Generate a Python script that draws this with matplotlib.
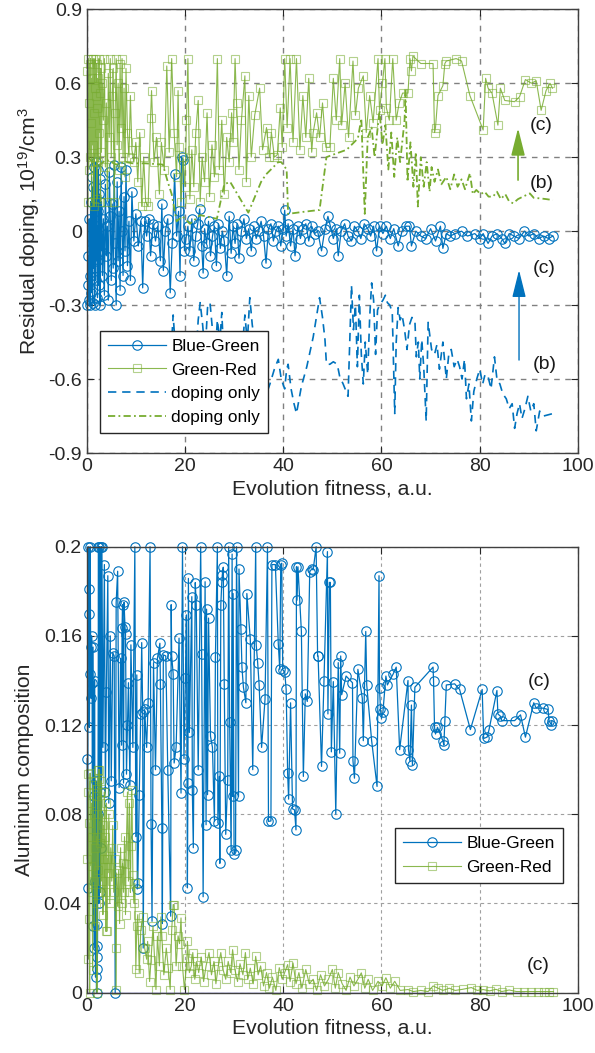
import numpy as np
import matplotlib
matplotlib.use('Agg')
import matplotlib.pyplot as plt

plt.rcParams['font.family'] = ['Liberation Sans', 'DejaVu Sans']
plt.rcParams['mathtext.default'] = 'regular'
plt.rcParams['axes.unicode_minus'] = False

blue = '#0072BD'
green = (0.467, 0.675, 0.188)

# ---- top panel: residual doping (x = fitness, y = doping) ----
bg_dop = [(0.1,-0.30),(0.2,-0.22),(0.3,-0.10),(0.4,-0.28),(0.5,0.05),(0.6,-0.18),(0.7,-0.30),(0.8,0.12),
          (0.9,-0.25),(1.0,0.22),(1.1,-0.05),(1.2,-0.29),(1.3,0.18),(1.4,-0.15),(1.5,0.26),(1.6,-0.30),
          (1.7,0.10),(1.8,-0.20),(1.9,0.28),(2.0,-0.12),(2.1,0.02),(2.2,-0.27),(2.3,0.25),(2.4,0.08),
          (2.5,-0.22),(2.6,0.15),(2.7,-0.30),(2.8,0.21),(2.9,-0.08),(3.0,0.12),(3.2,-0.18),(3.4,0.05),
          (3.6,-0.26),(3.8,0.19),(4.0,-0.10),(4.2,0.02),(4.4,-0.28),(4.6,0.24),(4.8,0.06),(5.0,-0.20),
          (5.2,0.11),(5.4,-0.15),(5.6,0.27),(5.8,-0.05),(6.0,-0.30),(6.2,0.20),(6.4,-0.12),(6.6,0.08),
          (6.8,-0.24),(7.0,0.26),(7.2,0.00),(7.4,-0.18),(7.6,0.14),(7.8,-0.08),(8.0,0.25),(8.3,-0.14),
          (8.6,0.04),(8.9,-0.20),(9.2,0.16),(9.6,-0.04),
          (10.0,0.07),(10.5,-0.06),(11.0,0.04),(11.4,-0.23),(11.8,0.04),(12.2,-0.02),(12.6,0.05),(13.0,-0.10),
          (13.5,0.03),(14.0,-0.04),(14.5,0.02),(15.0,-0.12),(15.3,0.11),(15.6,-0.16),(16.0,0.00),(16.5,0.05),
          (17.0,-0.25),(17.4,-0.05),(17.9,0.23),(18.3,-0.02),(18.7,0.08),(19.0,-0.18),(19.3,0.30),(19.6,0.29),
          (19.9,-0.08),
          (20.2,-0.03),(20.6,0.02),(21.0,-0.08),(21.4,0.05),(21.8,-0.12),(22.2,-0.02),(22.6,0.03),(23.0,0.09),
          (23.4,-0.06),(23.7,-0.17),(24.0,0.01),(24.4,-0.05),(24.8,0.04),(25.2,-0.10),(25.6,-0.02),(26.0,0.02),
          (26.4,-0.14),(26.8,0.03),(27.2,-0.07),(27.6,0.00),(28.0,-0.04),(28.5,-0.18),(29.0,0.06),(29.4,-0.09),
          (29.8,0.02),(30.2,-0.05),(30.6,0.03),(31.0,-0.11),(31.5,0.00),(32.0,0.05),(32.5,-0.03),(33.0,0.01),
          (33.5,-0.08),(34.0,0.02),(34.5,-0.03),(35.0,0.00),(35.5,0.04),(36.0,-0.02),(36.5,-0.13),(37.0,0.01),
          (37.5,0.03),(38.0,-0.04),(38.5,0.00),(39.0,0.02),(39.5,-0.06),(40.0,0.01),(40.3,0.085),
          (40.6,-0.02),(41.0,0.03),(41.5,-0.06),(42.0,0.01),(42.4,-0.10),(43.0,0.02),(43.5,-0.03),(44.0,0.01),
          (44.6,0.03),(45.2,-0.04),(45.8,0.02),(46.4,-0.01),(47.0,0.00),(47.8,-0.08),(48.5,0.01),(49.1,0.06),
          (49.6,0.02),(50.2,-0.03),(50.8,0.01),(51.2,-0.10),(51.8,0.00),(52.5,0.03),(53.2,-0.02),(53.9,-0.04),
          (54.5,0.02),(55.2,0.00),(55.8,-0.03),(56.5,0.03),(57.2,0.01),(57.8,-0.02),(58.4,0.02),(59.0,-0.08),
          (59.6,0.02),
          (60.3,-0.01),(61.0,0.02),(61.8,-0.03),(62.5,0.01),(63.4,-0.06),(64.2,0.00),(65.0,0.02),(65.7,0.02),
          (66.1,-0.06),(67.0,0.00),(68.0,-0.02),(69.0,-0.03),(70.0,0.01),(71.0,-0.04),(72.0,0.02),(72.5,-0.07),
          (73.2,-0.01),(74.0,-0.02),(75.0,-0.01),(76.3,0.00),(77.5,-0.02),(79.0,-0.01),(80.0,-0.03),(80.7,-0.01),
          (81.7,-0.05),(82.5,-0.02),(83.5,-0.01),(84.5,-0.03),(85.1,-0.05),(86.0,-0.01),(87.0,-0.02),(88.0,-0.03),
          (89.1,0.00),(90.0,-0.02),(91.0,-0.01),(92.0,-0.03),(93.0,-0.02),(94.0,-0.03),(94.9,-0.02)]

gr_dop = [(0.1,0.65),(0.2,0.12),(0.3,0.70),(0.4,0.25),(0.5,0.52),(0.6,0.68),(0.7,0.30),(0.8,0.70),
          (0.9,0.44),(1.0,0.12),(1.1,0.62),(1.2,0.35),(1.3,0.70),(1.4,0.48),(1.5,0.10),(1.6,0.58),
          (1.7,0.70),(1.8,0.30),(1.9,0.55),(2.0,0.68),(2.1,0.13),(2.2,0.50),(2.3,0.62),(2.4,0.28),
          (2.5,0.70),(2.6,0.40),(2.7,0.56),(2.8,0.12),(2.9,0.66),(3.0,0.32),(3.2,0.60),(3.4,0.45),
          (3.6,0.70),(3.8,0.26),(4.0,0.52),(4.2,0.12),(4.4,0.64),(4.6,0.38),(4.8,0.70),(5.0,0.30),
          (5.2,0.55),(5.4,0.66),(5.6,0.12),(5.8,0.48),(6.0,0.70),(6.2,0.35),(6.4,0.60),(6.6,0.25),
          (6.8,0.68),(7.0,0.42),(7.2,0.70),(7.4,0.30),(7.6,0.58),(7.8,0.22),(8.0,0.66),(8.3,0.40),
          (8.6,0.30),(8.9,0.55),(9.2,0.33),(9.6,0.28),
          (10.0,0.36),(10.4,0.20),(10.8,0.40),(11.2,0.10),(11.6,0.30),(12.0,0.12),(12.5,0.10),(13.0,0.46),
          (13.2,0.57),(13.7,0.28),(14.2,0.38),(14.8,0.15),(15.2,0.36),(15.8,0.25),(16.3,0.67),(16.8,0.32),
          (17.3,0.70),(17.8,0.40),(18.3,0.22),(18.6,0.57),(18.8,0.34),(19.2,0.12),(19.6,0.30),(20.0,0.18),
          (20.3,0.45),(20.6,0.70),(21.0,0.13),(21.4,0.33),(21.8,0.18),(22.2,0.40),(22.7,0.53),(23.1,0.12),
          (23.5,0.30),(24.0,0.20),(24.5,0.48),(25.0,0.14),(25.5,0.35),(26.0,0.22),(26.6,0.70),(27.0,0.25),
          (27.5,0.45),(28.0,0.15),(28.5,0.38),(29.0,0.28),(29.5,0.48),(29.8,0.36),(30.2,0.70),(30.5,0.52),
          (31.0,0.25),(31.5,0.45),(32.2,0.63),(32.5,0.20),(33.0,0.55),(33.5,0.30),(34.2,0.47),(35.2,0.58),
          (35.8,0.33),(36.6,0.42),(37.2,0.30),(37.6,0.40),(38.2,0.30),(38.8,0.31),(39.4,0.50),(39.8,0.34),
          (40.3,0.70),(40.8,0.42),(41.4,0.70),(42.0,0.36),(42.7,0.70),(43.4,0.33),(44.0,0.55),(44.6,0.38),
          (45.2,0.62),(45.8,0.32),(46.1,0.40),(46.8,0.48),(47.4,0.38),(48.0,0.52),(48.7,0.34),(49.5,0.34),
          (50.2,0.62),(50.8,0.45),(51.5,0.70),(51.9,0.43),(52.6,0.60),(53.3,0.38),(54.2,0.69),(54.7,0.47),
          (55.3,0.58),(56.3,0.63),(56.9,0.40),(57.6,0.55),(58.3,0.44),(59.3,0.70),(59.6,0.49),(60.2,0.60),
          (60.7,0.70),(61.0,0.50),(61.6,0.45),(62.3,0.70),(63.0,0.45),(63.6,0.52),(64.3,0.56),(65.4,0.56),
          (65.8,0.70),(66.1,0.65),(66.4,0.71),(68.0,0.68),(70.5,0.68),(70.8,0.40),(71.0,0.42),(71.5,0.55),
          (72.5,0.59),(72.9,0.68),(73.2,0.69),(75.2,0.70),(76.3,0.69),(78.0,0.55),(80.7,0.41),(81.2,0.62),
          (81.7,0.58),(82.5,0.56),(83.7,0.43),(84.2,0.58),(85.1,0.53),(87.1,0.525),(88.1,0.545),(89.3,0.615),
          (90.5,0.60),(91.5,0.61),(92.5,0.49),(93.5,0.57),(94.3,0.60),(94.8,0.58)]

bg_only = [(17.2,-0.48),(17.6,-0.34),(18.0,-0.46),(18.4,-0.55),(18.8,-0.50),(19.3,-0.62),(19.8,-0.48),
           (20.4,-0.55),(21.0,-0.60),(21.6,-0.42),(22.2,-0.52),(22.7,-0.36),(23.1,-0.29),(23.6,-0.38),
           (24.1,-0.50),(24.6,-0.31),(25.1,-0.29),(25.6,-0.40),(26.1,-0.52),(26.6,-0.36),(27.1,-0.45),
           (27.5,-0.33),(28.0,-0.55),(28.6,-0.48),(29.2,-0.60),(29.8,-0.44),(30.4,-0.52),(31.0,-0.40),
           (31.6,-0.50),(32.2,-0.34),(32.7,-0.45),(33.2,-0.27),(33.7,-0.38),(34.2,-0.45),(34.8,-0.55),
           (35.4,-0.62),(36.0,-0.58),(36.6,-0.66),(37.3,-0.62),(38.2,-0.56),(39.0,-0.52),(39.6,-0.60),
           (40.3,-0.64),(40.7,-0.56),(41.0,-0.54),(41.6,-0.64),(42.2,-0.70),(42.7,-0.74),(43.7,-0.63),
           (44.8,-0.55),(46.1,-0.43),(47.4,-0.27),(48.0,-0.35),(48.5,-0.44),(48.8,-0.54),(49.5,-0.54),
           (50.2,-0.53),(51.0,-0.54),(51.5,-0.59),(52.2,-0.62),(53.2,-0.67),(53.9,-0.22),(54.3,-0.40),
           (54.7,-0.30),(55.1,-0.55),(55.5,-0.26),(55.9,-0.50),(56.3,-0.62),(56.7,-0.45),(57.2,-0.58),
           (57.6,-0.35),(58.0,-0.21),(58.4,-0.28),(58.8,-0.50),(59.2,-0.32),(59.6,-0.30),(60.3,-0.28),
           (60.8,-0.26),(61.2,-0.29),(61.7,-0.30),(62.2,-0.33),(62.7,-0.74),(63.0,-0.45),(63.4,-0.31),
           (63.8,-0.36),(64.2,-0.34),(64.7,-0.40),(65.2,-0.48),(65.7,-0.38),(66.2,-0.35),(66.8,-0.36),
           (67.1,-0.51),(67.5,-0.45),(67.8,-0.60),(68.2,-0.44),(68.6,-0.55),(69.1,-0.77),(69.5,-0.37),
           (70.2,-0.48),(70.8,-0.50),(71.3,-0.46),(71.8,-0.56),(72.5,-0.45),(73.2,-0.60),(73.7,-0.50),
           (74.2,-0.48),(74.8,-0.55),(75.4,-0.52),(75.9,-0.55),(76.4,-0.60),(76.9,-0.52),(77.3,-0.68),
           (77.8,-0.62),(78.3,-0.77),(78.8,-0.65),(79.4,-0.60),(80.0,-0.56),(80.6,-0.62),(81.1,-0.58),
           (81.7,-0.59),(82.3,-0.64),(83.0,-0.51),(83.5,-0.60),(84.1,-0.62),(84.7,-0.66),(85.4,-0.68),
           (86.0,-0.72),(86.6,-0.70),(87.1,-0.80),(87.6,-0.74),(88.1,-0.70),(88.6,-0.76),(89.2,-0.72),
           (89.8,-0.67),(90.4,-0.73),(91.0,-0.70),(91.5,-0.81),(92.2,-0.73),(93.0,-0.75),(94.9,-0.74)]

gr_only = [(0.3,0.30),(2.0,0.26),(4.0,0.29),(6.0,0.27),(8.0,0.28),(9.4,0.275),(12.0,0.275),(15.5,0.27),
           (16.5,0.20),(17.3,0.15),(18.3,0.04),(19.5,0.06),(21.0,0.03),(23.1,0.065),(26.5,0.05),(28.0,0.19),
           (29.2,0.20),(32.9,0.075),(35.5,0.20),(36.5,0.23),(39.0,0.28),(39.6,0.28),(40.7,0.25),(41.0,0.07),
           (44.0,0.078),(47.4,0.086),(48.8,0.30),(50.8,0.315),(52.9,0.33),(55.2,0.376),(55.9,0.457),(56.6,0.07),
           (57.2,0.38),(58.0,0.42),(58.6,0.30),(59.6,0.49),(60.2,0.35),(60.8,0.43),(61.4,0.25),(62.0,0.40),
           (62.6,0.22),(63.2,0.38),(63.8,0.28),(64.7,0.45),(64.9,0.57),(65.3,0.20),(65.9,0.36),(66.5,0.18),
           (67.0,0.32),(67.4,0.10),(68.0,0.30),(68.6,0.18),(69.2,0.28),(69.8,0.16),(70.2,0.26),(70.8,0.20),
           (71.5,0.25),(72.2,0.19),(73.2,0.22),(74.0,0.17),(74.8,0.23),(75.5,0.18),(76.3,0.21),(77.0,0.17),
           (78.0,0.235),(78.6,0.15),(79.3,0.167),(80.2,0.15),(81.0,0.16),(81.8,0.14),(82.7,0.14),(83.5,0.16),
           (84.3,0.13),(85.2,0.15),(86.0,0.12),(86.8,0.113),(87.8,0.13),(88.8,0.14),(90.2,0.153),(91.0,0.135),
           (92.2,0.133),(93.5,0.13),(94.9,0.126)]

# ---- bottom panel: aluminum composition ----
bg_al = [(0.1,0.105),(0.2,0.047),(0.3,0.2),(0.4,0.17),(0.5,0.181),(0.55,0.119),(0.6,0.143),(0.7,0.2),
         (0.8,0.155),(0.9,0.132),(1.0,0.16),(1.1,0.139),(1.2,0.03),(1.3,0.155),(1.4,0.088),(1.5,0.02),
         (1.6,0.14),(1.7,0.05),(1.8,0.007),(1.9,0.095),(2.0,0.0),(2.05,0.031),(2.1,0.016),(2.15,0.0104),
         (2.2,0.021),(2.3,0.08),(2.4,0.2),(2.5,0.04),(2.6,0.2),(2.7,0.09),(2.8,0.045),(2.9,0.2),
         (3.0,0.065),(3.1,0.2),(3.3,0.11),(3.6,0.192),(3.8,0.09),(4.0,0.135),(4.3,0.187),(4.5,0.085),
         (4.8,0.16),(5.0,0.095),(5.3,0.1525),(5.6,0.151),(5.8,0.0),(6.0,0.175),(6.3,0.189),(6.6,0.092),
         (6.9,0.15),(7.1,0.111),(7.2,0.1634),(7.3,0.174),(7.5,0.094),(7.6,0.175),(7.8,0.164),(7.9,0.161),
         (8.1,0.098),(8.3,0.12),(8.5,0.139),(8.8,0.093),(9.0,0.156),(9.4,0.11),(9.8,0.2),(10.0,0.07),
         (10.2,0.1425),(10.3,0.0465),(10.4,0.0492),(10.7,0.0888),(11.0,0.125),(11.2,0.157),(11.4,0.126),
         (11.5,0.02),(11.8,0.127),(12.2,0.11),(12.5,0.13),(12.9,0.2),(13.1,0.0756),(13.3,0.032),(13.6,0.148),
         (14.0,0.1),(14.4,0.15),(14.9,0.1567),(15.0,0.1386),(15.3,0.074),(15.4,0.031),(15.6,0.1515),
         (16.1,0.151),(16.5,0.1),(17.1,0.0343),(17.2,0.174),(17.3,0.151),(17.6,0.143),(17.8,0.103),
         (18.2,0.11),(18.8,0.159),(19.2,0.0895),(19.5,0.2),(19.8,0.105),(20.1,0.141),(20.3,0.1694),
         (20.5,0.047),(20.6,0.094),(20.7,0.1858),(20.9,0.1167),(21.4,0.1776),(21.5,0.091),(21.7,0.065),
         (22.1,0.1839),(22.3,0.174),(22.7,0.1),(23.2,0.2),(23.4,0.152),(23.7,0.043),(24.1,0.1843),
         (24.3,0.0753),(24.4,0.172),(24.6,0.0888),(24.8,0.168),(25.2,0.115),(25.6,0.11),(26.0,0.0768),
         (26.2,0.1504),(26.6,0.2),(26.7,0.076),(27.0,0.097),(27.1,0.058),(27.3,0.174),(27.5,0.184),
         (27.6,0.1873),(27.8,0.1908),(28.0,0.1386),(28.3,0.071),(28.7,0.0955),(28.9,0.2),(29.1,0.1212),
         (29.4,0.064),(29.6,0.1967),(29.7,0.088),(29.8,0.179),(30.0,0.062),(30.3,0.064),(30.5,0.2),
         (30.9,0.088),(31.0,0.19),(31.4,0.163),(31.6,0.146),(31.9,0.137),(32.4,0.130),(32.6,0.179),
         (33.3,0.1585),(33.8,0.1),(34.4,0.2),(34.5,0.156),(34.8,0.148),(35.1,0.138),(35.6,0.11),
         (36.3,0.1316),(36.8,0.2),(37.0,0.0768),(37.5,0.077),(37.7,0.192),(38.4,0.192),(39.0,0.1564),
         (39.3,0.145),(39.5,0.192),(39.7,0.1926),(39.9,0.1448),(40.3,0.144),(40.6,0.136),(40.9,0.0985),
         (41.1,0.0868),(41.5,0.13),(41.9,0.0824),(42.3,0.082),(42.6,0.073),(42.7,0.191),(42.8,0.176),
         (43.0,0.191),(43.7,0.162),(44.1,0.097),(44.5,0.134),(44.9,0.1306),(45.4,0.1888),(45.8,0.19),
         (46.1,0.1896),(46.7,0.2),(47.0,0.151),(47.1,0.151),(47.8,0.1015),(48.3,0.14),(49.0,0.1978),
         (49.1,0.125),(49.4,0.184),(49.6,0.184),(49.8,0.108),(50.2,0.1395),(50.7,0.08),(51.2,0.148),
         (51.5,0.1074),(51.7,0.151),(51.9,0.1336),(52.8,0.142),(54.1,0.139),(54.2,0.104),(54.5,0.0962),
         (55.2,0.145),(56.1,0.132),(56.3,0.113),(56.8,0.162),(57.0,0.138),(58.0,0.113),(59.1,0.0925),
         (59.5,0.187),(59.6,0.1366),(59.8,0.127),(60.0,0.123),(60.3,0.126),(60.9,0.142),(61.2,0.138),
         (62.4,0.143),(63.0,0.146),(63.7,0.109),(65.4,0.14),(65.5,0.109),(65.8,0.1037),(66.1,0.129),
         (66.3,0.102),(66.8,0.137),(70.5,0.146),(70.6,0.14),(70.8,0.119),(71.0,0.116),(71.4,0.119),
         (72.5,0.113),(72.7,0.111),(72.9,0.1217),(73.2,0.138),(74.9,0.1385),(75.9,0.136),(78.1,0.118),
         (80.5,0.136),(80.8,0.114),(81.5,0.1146),(81.9,0.118),(83.5,0.1355),(83.7,0.125),(84.2,0.124),
         (84.5,0.122),(87.1,0.122),(88.3,0.1246),(89.3,0.1146),(91.0,0.130),(91.5,0.1276),(92.9,0.1276),
         (93.9,0.127),(94.1,0.122),(94.6,0.12),(94.7,0.122)]

gr_al = [(0.1,0.06),(0.2,0.098),(0.3,0.015),(0.35,0.09),(0.4,0.033),(0.5,0.076),(0.6,0.0),(0.7,0.0985),
         (0.8,0.057),(0.9,0.085),(1.0,0.045),(1.1,0.07),(1.2,0.01),(1.3,0.093),(1.4,0.05),(1.5,0.08),
         (1.6,0.03),(1.7,0.065),(1.8,0.095),(1.9,0.04),(2.0,0.07),(2.1,0.0),(2.2,0.088),(2.3,0.055),
         (2.4,0.1),(2.5,0.096),(2.6,0.1),(2.7,0.0672),(2.8,0.045),(2.9,0.09),(3.0,0.095),(3.1,0.05),
         (3.2,0.08),(3.3,0.035),(3.4,0.075),(3.5,0.06),(3.6,0.09),(3.7,0.045),(3.8,0.07),(3.9,0.0275),
         (4.0,0.085),(4.1,0.0275),(4.2,0.06),(4.3,0.0537),(4.5,0.08),(4.7,0.04),(4.9,0.065),(5.1,0.05),
         (5.3,0.075),(5.5,0.045),(5.7,0.06),(5.9,0.02),(6.0,0.0014),(6.1,0.0537),(6.3,0.0387),(6.5,0.055),
         (6.7,0.031),(6.9,0.065),(7.1,0.04),(7.3,0.058),(7.5,0.045),(7.7,0.07),(7.9,0.035),(8.0,0.0575),
         (8.3,0.09),(8.5,0.05),(8.7,0.085),(8.9,0.045),(9.0,0.0656),(9.2,0.091),(9.4,0.0526),(9.6,0.04),
         (9.8,0.049),(10.0,0.0104),(10.2,0.03),(10.4,0.035),(10.7,0.009),(11.0,0.028),(11.4,0.034),
         (11.8,0.02),(12.2,0.015),(12.4,0.023),(12.8,0.005),(13.1,0.0148),(13.5,0.03),(14.1,0.0014),
         (14.4,0.0253),(14.8,0.012),(15.1,0.034),(15.3,0.0253),(15.7,0.008),(16.2,0.02),(16.6,0.0112),
         (17.0,0.0014),(17.3,0.028),(17.6,0.0395),(17.8,0.0395),(18.2,0.012),(18.6,0.0255),(18.9,0.022),
         (19.2,0.0335),(19.5,0.0118),(19.9,0.0014),(20.4,0.0155),(20.5,0.023),(20.9,0.009),(21.3,0.012),
         (21.6,0.018),(22.0,0.006),(22.4,0.014),(22.8,0.009),(23.3,0.016),(23.8,0.005),(24.3,0.012),
         (24.9,0.018),(25.4,0.008),(25.9,0.014),(26.3,0.004),(26.8,0.012),(27.3,0.018),(27.8,0.01),
         (28.3,0.006),(28.8,0.014),(29.3,0.009),(29.7,0.0193),(30.2,0.01),(30.7,0.005),(31.2,0.013),
         (31.8,0.008),(32.3,0.018),(32.8,0.006),(33.3,0.011),(33.9,0.004),(34.4,0.0163),(34.9,0.008),
         (35.4,0.012),(36.0,0.003),(36.6,0.009),(37.2,0.002),(37.8,0.007),(38.5,0.001),(39.2,0.0112),
         (39.8,0.006),(40.3,0.009),(40.9,0.0126),(41.4,0.005),(42.0,0.0133),(42.6,0.004),(43.2,0.009),
         (43.8,0.002),(44.6,0.0104),(45.3,0.004),(46.1,0.006),(46.8,0.001),(47.6,0.008),(48.4,0.003),
         (49.2,0.006),(50.0,0.0104),(50.6,0.002),(51.2,0.009),(52.0,0.004),(52.8,0.001),(53.6,0.007),
         (54.4,0.003),(55.2,0.006),(55.9,0.0089),(56.6,0.002),(57.3,0.006),(58.2,0.001),(59.3,0.0051),
         (60.1,0.003),(60.9,0.0067),(61.8,0.002),(62.7,0.0051),(63.8,0.001),(65.4,0.0014),(66.5,0.0005),
         (68.0,0.001),(69.5,0.0005),(70.5,0.003),(71.5,0.002),(72.5,0.001),(73.8,0.002),(75.0,0.001),
         (76.5,0.0015),(78.3,0.0023),(79.5,0.001),(80.7,0.0014),(82.0,0.0008),(83.3,0.0015),(84.5,0.0005),
         (86.0,0.0012),(87.5,0.0005),(89.0,0.0005),(90.5,0.0005),(91.8,0.0005),(93.0,0.0005),(94.2,0.0005),
         (95.0,0.0005)]

only_al_x = [0.2, 20, 40, 60, 80, 89]
only_al_y = [0, 0, 0, 0, 0, 0]

xticks = [0, 20, 40, 60, 80, 100]
dop_ticks = [-0.9, -0.6, -0.3, 0, 0.3, 0.6, 0.9]
dop_labels = ['-0.9', '-0.6', '-0.3', '0', '0.3', '0.6', '0.9']
al_ticks = [0, 0.04, 0.08, 0.12, 0.16, 0.2]
al_labels = ['0', '0.04', '0.08', '0.12', '0.16', '0.2']


def xy(pairs):
    a = np.array(pairs, dtype=float)
    return a[:, 0], a[:, 1]


def style(ax, gridcol, gridlw, dash):
    ax.set_xlim(0, 100)
    ax.set_xticks(xticks)
    ax.grid(True, color=gridcol, lw=gridlw, linestyle=(0, dash))
    ax.set_axisbelow(True)
    ax.tick_params(direction='in', top=True, right=True, length=5, width=0.8,
                   labelsize=14, colors='#262626')
    for s in ax.spines.values():
        s.set_color('#404040')
        s.set_linewidth(1.0)
    ax.set_xlabel('Evolution fitness, a.u.', fontsize=15.2, color='#262626', labelpad=3)


def legend(ax, anchor):
    lg = ax.legend(loc='lower left', bbox_to_anchor=anchor, fontsize=12.4,
                   handlelength=3.4, handletextpad=0.3, labelspacing=0.5, borderpad=0.45,
                   borderaxespad=0, fancybox=False, framealpha=1, edgecolor='#262626')
    lg.get_frame().set_linewidth(1.0)
    return lg


fig = plt.figure(figsize=(5.95, 10.53), dpi=100)

gr_line = green + (0.85,)
gr_mark = green + (0.55,)

# top
ax1 = fig.add_axes([0.1457, 0.5698, 0.8257, 0.4214])
x, y = xy(bg_dop)
ax1.plot(x, y, '-o', color=blue, lw=0.9, ms=6.8, mfc='none', mew=0.8, label='Blue-Green', clip_on=False)
x, y = xy(gr_dop)
ax1.plot(x, y, '-s', color=gr_line, lw=0.8, ms=6.2, mfc='none', mec=gr_mark, mew=0.8,
         label='Green-Red', clip_on=False)
x, y = xy(bg_only)
ax1.plot(x, y, color=blue, lw=1.2, dashes=(5, 3.5), label='doping only')
x, y = xy(gr_only)
ax1.plot(x, y, color=green, lw=1.3, dashes=(4, 1.8, 1, 1.8), label='doping only')
style(ax1, '#808080', 1.0, (4, 4))
ax1.set_ylim(-0.9, 0.9)
ax1.set_yticks(dop_ticks)
ax1.set_yticklabels(dop_labels)
ax1.set_ylabel('Residual doping, 10$^{19}$/cm$^{3}$', fontsize=15.2, color='#262626')
ax1.yaxis.set_label_coords(-0.09, 0.5)

ax1.annotate('', xy=(87.8, 0.418), xytext=(87.8, 0.207),
             arrowprops=dict(arrowstyle='-|>,head_length=1.2,head_width=0.3', color=green,
                             lw=1.2, mutation_scale=14, shrinkA=0, shrinkB=0))
ax1.annotate('', xy=(88.0, -0.158), xytext=(88.0, -0.523),
             arrowprops=dict(arrowstyle='-|>,head_length=1.2,head_width=0.3', color=blue,
                             lw=1.0, mutation_scale=14, shrinkA=0, shrinkB=0))
for tx, ty, t in [(92.6, 0.428, '(c)'), (92.6, 0.195, '(b)'), (93.2, -0.151, '(c)'), (93.2, -0.543, '(b)')]:
    ax1.text(tx, ty, t, fontsize=14, ha='center', va='center', color='#1a1a1a')

legend(ax1, (0.027, 0.046))

# bottom
ax2 = fig.add_axes([0.1457, 0.0573, 0.8257, 0.4235])
x, y = xy(bg_al)
ax2.plot(x, y, '-o', color=blue, lw=0.9, ms=6.8, mfc='none', mew=0.8, label='Blue-Green', clip_on=False)
x, y = xy(gr_al)
ax2.plot(x, y, '-s', color=gr_line, lw=0.8, ms=6.2, mfc='none', mec=gr_mark, mew=0.8,
         label='Green-Red', clip_on=False)
ax2.plot(only_al_x, only_al_y, color='#3d3dbf', lw=1.0)
style(ax2, '#a0a0a0', 0.8, (3, 3))
ax2.set_ylim(0, 0.2)
ax2.set_yticks(al_ticks)
ax2.set_yticklabels(al_labels)
ax2.set_ylabel('Aluminum composition', fontsize=15.2, color='#262626')
ax2.yaxis.set_label_coords(-0.108, 0.5)
ax2.text(92.2, 0.1395, '(c)', fontsize=14, ha='center', va='center', color='#1a1a1a')
ax2.text(91.8, 0.012, '(c)', fontsize=14, ha='center', va='center', color='#1a1a1a')

legend(ax2, (0.6275, 0.2466))

fig.savefig('out.png', dpi=100)
